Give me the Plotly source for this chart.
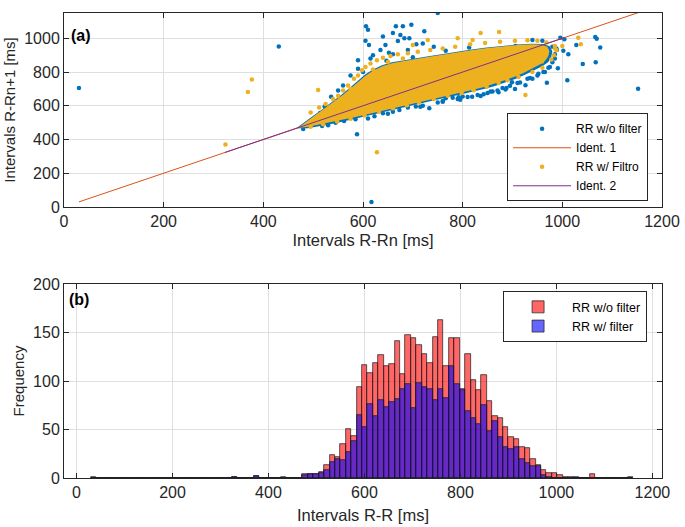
import plotly.graph_objects as go

# ---------------- data: scatter (a) ----------------
# outline of the dense (solid) part of the filtered cloud, ms
core_filt_x = [470, 485, 500, 515, 530, 545, 560, 575, 590, 605, 620, 640, 660, 680, 700, 730, 760, 790, 820, 850, 880, 910, 940, 958, 970, 974, 972, 966, 955,
               940, 922, 903, 884, 864, 845, 825, 805, 785, 765, 745, 725, 705, 685, 665, 645, 625, 605, 585, 565, 545, 525, 505, 487]
core_filt_y = [470, 503, 535, 565, 598, 630, 665, 702, 740, 778, 808, 836, 854, 866, 874, 889, 904, 917, 930, 942, 952, 960, 964, 962, 950, 925, 895, 868, 845,
               820, 795, 770, 750, 730, 713, 698, 684, 671, 659, 646, 632, 618, 604, 590, 576, 562, 548, 534, 521, 509, 497, 485, 474]
# outline of the unfiltered cloud (a little wider than the filtered one)
core_raw_x = [466, 482, 498, 513, 528, 543, 558, 573, 588, 603, 618, 638, 658, 678, 698, 728, 758, 788, 818, 848, 878, 908, 938, 960, 974, 980, 978, 972, 960,
              944, 926, 907, 888, 868, 849, 829, 809, 789, 769, 749, 729, 709, 689, 669, 649, 629, 609, 589, 569, 549, 529, 509, 489]
core_raw_y = [466, 503, 536, 567, 600, 632, 668, 706, 745, 783, 812, 840, 858, 869, 877, 892, 907, 920, 933, 945, 955, 963, 968, 966, 954, 925, 890, 860, 834,
              810, 785, 760, 740, 720, 704, 689, 675, 662, 650, 636, 622, 608, 594, 580, 566, 552, 538, 524, 511, 499, 487, 476, 466]

raw_pts_x = [30, 431, 588, 617, 750, 1152, 606, 610, 605, 612, 666, 680, 697, 660, 723, 670, 683, 693, 707, 720, 660, 700, 647, 733, 766, 813, 906,
             560, 536, 523, 514, 575, 590, 620, 635, 645, 590, 600, 625, 550, 570, 615, 652, 690, 742, 640, 675,
             501, 518, 545, 562, 585, 623, 640, 660, 673, 690, 706, 720, 733, 750, 766, 780, 800, 819, 836, 850, 870, 886, 899, 910, 926, 940, 952, 965, 969, 975,
             480, 530, 610, 650, 715, 760, 790, 810, 830, 860, 880, 895, 915, 935, 950, 962, 972, 980, 985, 988, 872, 905, 842, 795,
             996, 1004, 989, 1002, 1012, 1028, 1066, 1069, 1076, 1041, 1067, 991, 1010, 985, 980, 960, 940, 760, 792, 856, 888, 930]
raw_pts_y = [706, 951, 431, 30, 1150, 701, 1072, 1050, 985, 960, 1071, 1071, 1081, 1032, 1042, 984, 1000, 1000, 965, 969, 906, 887, 867, 867, 926, 945, 955,
             720, 654, 596, 557, 780, 820, 900, 930, 960, 870, 800, 790, 690, 650, 880, 915, 930, 950, 1010, 1020,
             489, 480, 500, 509, 520, 538, 555, 565, 575, 590, 596, 600, 586, 620, 644, 648, 655, 654, 658, 675, 690, 697, 740, 735, 722, 760, 790, 800, 736, 830,
             462, 484, 525, 552, 594, 624, 640, 652, 664, 684, 706, 718, 738, 765, 780, 800, 826, 858, 905, 940, 680, 700, 668, 636,
             1003, 994, 930, 926, 906, 961, 1007, 997, 945, 848, 858, 823, 751, 880, 950, 985, 990, 628, 650, 684, 706, 760]

filt_pts_x = [324, 369, 377, 510, 628, 836, 873, 1032, 1037, 926, 959, 1000, 985, 700, 730, 790, 820,
              560, 570, 582, 590, 598, 605, 615, 628, 640, 655, 670, 690, 710, 600, 575, 550, 540, 525, 512, 495, 620, 650, 680,
              735, 760, 785, 815, 845, 875, 905, 930, 950, 968, 985, 988, 983, 978,
              960, 940, 912, 890, 872, 848, 822, 798, 770, 742, 712, 688, 660, 632, 603, 575, 548, 520, 495]
filt_pts_y = [371, 681, 755, 693, 324, 1032, 1038, 1003, 965, 664, 863, 955, 940, 960, 990, 1000, 990,
              690, 720, 760, 780, 810, 830, 850, 870, 885, 895, 905, 912, 920, 740, 700, 660, 640, 610, 590, 560, 815, 860, 880,
              930, 940, 950, 965, 972, 980, 985, 988, 985, 975, 955, 930, 900, 875,
              825, 800, 770, 752, 735, 712, 692, 676, 660, 640, 620, 603, 585, 565, 543, 523, 507, 490, 475]

ident1_x = [30, 1152]
ident2_x = [323, 1005]

# ---------------- data: histogram (b) ----------------
bin_start = 30.0
bin_width = 11.3
n_bins = 100
raw_counts = {0: 1, 26: 1, 30: 2, 35: 1,
              39: 4, 40: 4, 41: 4, 42: 6, 43: 13, 44: 24, 45: 22, 46: 35, 47: 51, 48: 43,
              49: 94, 50: 116, 51: 108, 52: 119, 53: 127, 54: 115, 55: 117, 56: 141, 57: 107, 58: 147,
              59: 144, 60: 137, 61: 128, 62: 119, 63: 145, 64: 163, 65: 115, 66: 144, 67: 144, 68: 92,
              69: 128, 70: 101, 71: 91, 72: 106, 73: 79, 74: 64, 75: 62, 76: 53, 77: 42, 78: 40,
              79: 32, 80: 31, 81: 20, 82: 13, 83: 8, 84: 5, 85: 5, 86: 3, 87: 1, 88: 1, 92: 4, 99: 1}
filt_counts = {26: 1, 30: 2,
               39: 3, 40: 4, 41: 4, 42: 5, 43: 8, 44: 16, 45: 20, 46: 19, 47: 27, 48: 38,
               49: 65, 50: 53, 51: 76, 52: 64, 53: 80, 54: 73, 55: 78, 56: 81, 57: 92, 58: 97,
               59: 72, 60: 98, 61: 94, 62: 92, 63: 80, 64: 92, 65: 82, 66: 115, 67: 97, 68: 91,
               69: 69, 70: 62, 71: 56, 72: 75, 73: 48, 74: 59, 75: 42, 76: 32, 77: 30, 78: 32,
               79: 20, 80: 15, 81: 12, 82: 12, 83: 3, 84: 1, 89: 1}

bin_centers = [bin_start + (k + 0.5) * bin_width for k in range(n_bins)]
raw_hist = [raw_counts.get(k, 0) for k in range(n_bins)]
filt_hist = [filt_counts.get(k, 0) for k in range(n_bins)]

# ---------------- styling ----------------
BLUE = "#0072BD"
YELLOW = "#EDB120"
ORANGE = "#D95319"
PURPLE = "#7E2F8E"
AX = "#262626"
GRID = "#dfdfdf"
FONT = "Liberation Sans, Arial, sans-serif"

fig = go.Figure()

# (a) scatter
fig.add_trace(go.Scatter(x=core_raw_x, y=core_raw_y, fill="toself", fillcolor=BLUE,
                         mode="lines", line=dict(color=BLUE, width=0), showlegend=False,
                         hoverinfo="skip", xaxis="x", yaxis="y"))
fig.add_trace(go.Scatter(x=raw_pts_x, y=raw_pts_y, mode="markers", name="RR w/o filter",
                         marker=dict(color=BLUE, size=4.5), xaxis="x", yaxis="y", legend="legend"))
fig.add_trace(go.Scatter(x=ident1_x, y=ident1_x, mode="lines", name="Ident. 1",
                         line=dict(color=ORANGE, width=1), xaxis="x", yaxis="y", legend="legend"))
fig.add_trace(go.Scatter(x=core_filt_x, y=core_filt_y, fill="toself", fillcolor=YELLOW,
                         mode="lines", line=dict(color=YELLOW, width=0), showlegend=False,
                         hoverinfo="skip", xaxis="x", yaxis="y"))
fig.add_trace(go.Scatter(x=filt_pts_x, y=filt_pts_y, mode="markers", name="RR w/ Filtro",
                         marker=dict(color=YELLOW, size=4.5), xaxis="x", yaxis="y", legend="legend"))
fig.add_trace(go.Scatter(x=ident2_x, y=ident2_x, mode="lines", name="Ident. 2",
                         line=dict(color=PURPLE, width=1), xaxis="x", yaxis="y", legend="legend"))

# (b) histogram
fig.add_trace(go.Bar(x=bin_centers, y=raw_hist, width=bin_width, name="RR w/o filter",
                     marker=dict(color="rgba(255,0,0,0.6)", line=dict(color="#1a1a1a", width=0.7)),
                     xaxis="x2", yaxis="y2", legend="legend2"))
fig.add_trace(go.Bar(x=bin_centers, y=filt_hist, width=bin_width, name="RR w/ filter",
                     marker=dict(color="rgba(0,0,255,0.6)", line=dict(color="#1a1a1a", width=0.7)),
                     xaxis="x2", yaxis="y2", legend="legend2"))

L, R, T, B = 64, 20, 5, 49
W, H = 685, 527
ph = H - T - B


def py(px):
    return (H - B - px) / ph


def pxx(px):
    return (px - L) / (W - L - R)


axis_common = dict(showline=True, linecolor=AX, linewidth=1, mirror="ticks", ticks="inside",
                   ticklen=5, tickcolor=AX, showgrid=True, gridcolor=GRID, gridwidth=1,
                   zeroline=False, tickfont=dict(family=FONT, size=16, color=AX))

fig.update_layout(
    width=W, height=H, margin=dict(l=L, r=R, t=T, b=B),
    paper_bgcolor="white", plot_bgcolor="white", barmode="overlay", bargap=0,
    font=dict(family=FONT, color=AX),
    xaxis=dict(domain=[0, 1], range=[0, 1200], tickvals=[0, 200, 400, 600, 800, 1000, 1200],
               anchor="y", title=dict(text="Intervals R-Rn [ms]", standoff=5,
                                      font=dict(family=FONT, size=16.5, color=AX)), **axis_common),
    yaxis=dict(domain=[py(202.3), 1], range=[0, 1150], tickvals=[0, 200, 400, 600, 800, 1000],
               anchor="x", title=dict(text="Intervals R-Rn+1 [ms]", standoff=4,
                                      font=dict(family=FONT, size=15, color=AX)), **axis_common),
    xaxis2=dict(domain=[0, 1], range=[-26, 1220], tickvals=[0, 200, 400, 600, 800, 1000, 1200],
                anchor="y2", title=dict(text="Intervals R-R [ms]", standoff=9,
                                        font=dict(family=FONT, size=16.5, color=AX)), **axis_common),
    yaxis2=dict(domain=[0, py(280.7)], range=[0, 200], tickvals=[0, 50, 100, 150, 200],
                anchor="x2", title=dict(text="Frequency", standoff=4,
                                        font=dict(family=FONT, size=15, color=AX)), **axis_common),
    legend=dict(x=pxx(651), y=py(107), xanchor="right", yanchor="top",
                bgcolor="white", bordercolor=AX, borderwidth=1,
                font=dict(family=FONT, size=12, color="#000"), tracegroupgap=0, itemwidth=58),
    legend2=dict(x=pxx(650), y=py(288), xanchor="right", yanchor="top",
                 bgcolor="white", bordercolor=AX, borderwidth=1,
                 font=dict(family=FONT, size=12.5, color="#000"), tracegroupgap=0, itemwidth=58),
    annotations=[
        dict(text="<b>(a)</b>", x=pxx(69), y=py(28), xref="paper", yref="paper",
             xanchor="left", yanchor="middle", showarrow=False,
             font=dict(family=FONT, size=16, color="#000")),
        dict(text="<b>(b)</b>", x=pxx(67), y=py(296.5), xref="paper", yref="paper",
             xanchor="left", yanchor="middle", showarrow=False,
             font=dict(family=FONT, size=16, color="#000")),
    ],
)

fig.write_html("out.html", config={"displayModeBar": False},
               post_script="document.body.style.margin='0px';")
